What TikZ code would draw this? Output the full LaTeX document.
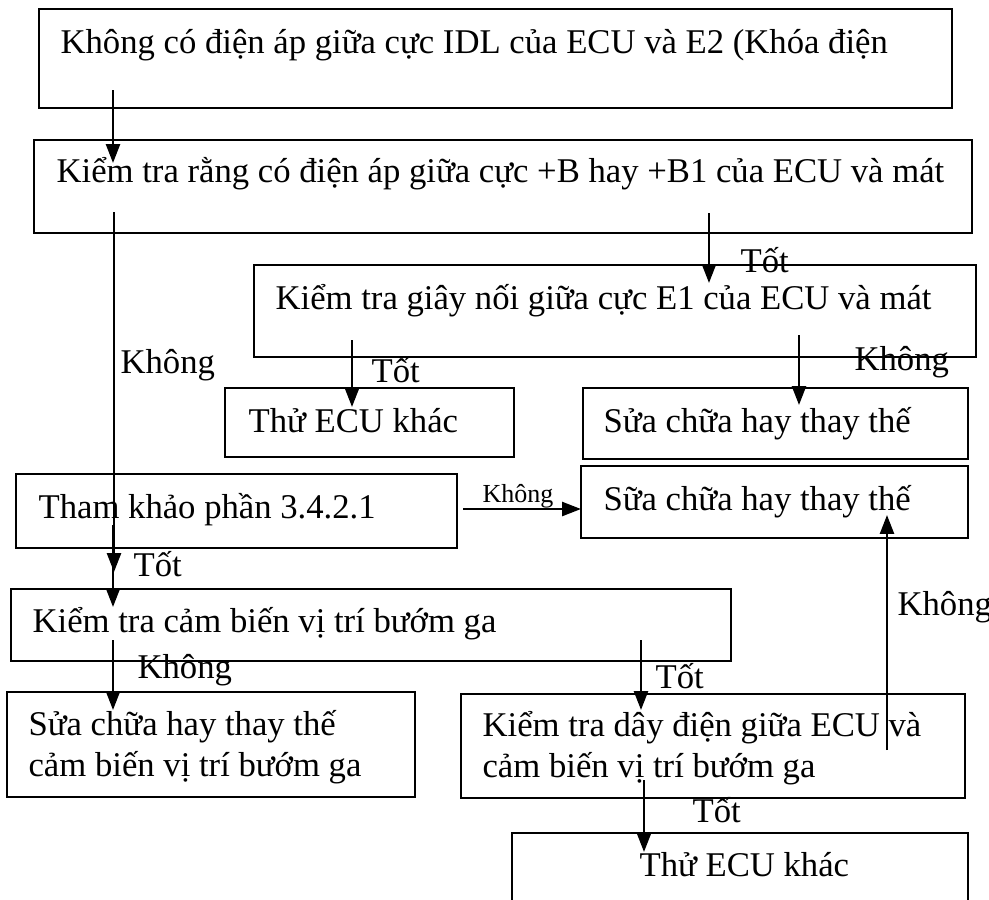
\documentclass[tikz,border=0pt]{standalone}
\usepackage{fontspec}
\setmainfont{Liberation Serif}
\usetikzlibrary{arrows.meta,fit}
\begin{document}
\begin{tikzpicture}[x=0.346pt,y=-0.346pt,
  box/.style={draw,line width=0.85pt,inner sep=0pt},
  txt/.style={anchor=base west,inner sep=0pt,font=\fontsize{12pt}{13.8pt}\selectfont},
  lbl/.style={anchor=base west,inner sep=0pt,font=\fontsize{12pt}{13.8pt}\selectfont},
  smalllbl/.style={anchor=base west,inner sep=0pt,font=\fontsize{9pt}{10pt}\selectfont},
  arr/.style={line width=0.85pt,-{Triangle[length=6.5pt,width=4.8pt]}}]
\path[use as bounding box] (0,0) rectangle (989,899);
\clip (0,0) rectangle (989,899);

% boxes
\node[box,fit={(39,9) (952,108)}] (A) {};
\node[box,fit={(34,140) (972,233)}] (B) {};
\node[box,fit={(254,265) (976,357)}] (C) {};
\node[box,fit={(225,388) (514,457)}] (D) {};
\node[box,fit={(583,388) (968,459)}] (E) {};
\node[box,fit={(581,466) (968,538)}] (F) {};
\node[box,fit={(16,474) (457,548)}] (G) {};
\node[box,fit={(11,589) (731,661)}] (H) {};
\node[box,fit={(7,692) (415,797)}] (I) {};
\node[box,fit={(461,694) (965,798)}] (J) {};
\node[box,fit={(512,833) (968,930)}] (K) {};

% box texts
\node[txt] (tA) at (60,53) {Không có điện áp giữa cực IDL của ECU và E2 (Khóa điện};
\node[txt] (tB) at (56,182) {Kiểm tra rằng có điện áp giữa cực +B hay +B1 của ECU và mát};
\node[txt] (tC) at (275,309) {Kiểm tra giây nối giữa cực E1 của ECU và mát};
\node[txt] (tD) at (248,432) {Thử ECU khác};
\node[txt] (tE) at (603,432) {Sửa chữa hay thay thế};
\node[txt] (tF) at (603,510) {Sữa chữa hay thay thế};
\node[txt] (tG) at (38,518) {Tham khảo phần 3.4.2.1};
\node[txt] (tH) at (32,632) {Kiểm tra cảm biến vị trí bướm ga};
\node[txt] (tI1) at (28,735) {Sửa chữa hay thay thế};
\node[txt] (tI2) at (28,776) {cảm biến vị trí bướm ga};
\node[txt] (tJ1) at (482,736) {Kiểm tra dây điện giữa ECU và};
\node[txt] (tJ2) at (482,777) {cảm biến vị trí bướm ga};
\node[txt] (tK) at (639,876) {Thử ECU khác};

% connector end points
\coordinate (ab1) at (113,90);   \coordinate (ab2) at (113,163);
\coordinate (bc1) at (709,213);  \coordinate (bc2) at (709,283);
\coordinate (bg1) at (114,212);  \coordinate (bg2) at (114,572);
\coordinate (gh1) at (113,525);  \coordinate (gh2) at (113,607);
\coordinate (cd1) at (352,340);  \coordinate (cd2) at (352,407);
\coordinate (ce1) at (799,335);  \coordinate (ce2) at (799,405);
\coordinate (gf1) at (463,509);  \coordinate (gf2) at (581,509);
\coordinate (hi1) at (113,640);  \coordinate (hi2) at (113,710);
\coordinate (hj1) at (641,640);  \coordinate (hj2) at (641,710);
\coordinate (jf1) at (887,750);  \coordinate (jf2) at (887,515);
\coordinate (jk1) at (644,780);  \coordinate (jk2) at (644,852);

% connectors
\draw[arr] (ab1) -- (ab2);
\draw[arr] (bc1) -- (bc2);
\draw[arr] (bg1) -- (bg2);
\draw[arr] (gh1) -- (gh2);
\draw[arr] (cd1) -- (cd2);
\draw[arr] (ce1) -- (ce2);
\draw[arr] (gf1) -- (gf2);
\draw[arr] (hi1) -- (hi2);
\draw[arr] (hj1) -- (hj2);
\draw[arr] (jf1) -- (jf2);
\draw[arr] (jk1) -- (jk2);

% connector labels
\node[lbl] (lbc) at (740,272) {Tốt};
\node[lbl] (lbg) at (120,373) {Không};
\node[lbl] (lcd) at (371,382) {Tốt};
\node[lbl] (lce) at (854,370) {Không};
\node[smalllbl] (lgf) at (482,502) {Không};
\node[lbl] (lgh) at (133,576) {Tốt};
\node[lbl] (lhi) at (137,678) {Không};
\node[lbl] (lhj) at (655,688) {Tốt};
\node[lbl] (ljf) at (897,615) {Không};
\node[lbl] (ljk) at (692,822) {Tốt};
\end{tikzpicture}
\end{document}
